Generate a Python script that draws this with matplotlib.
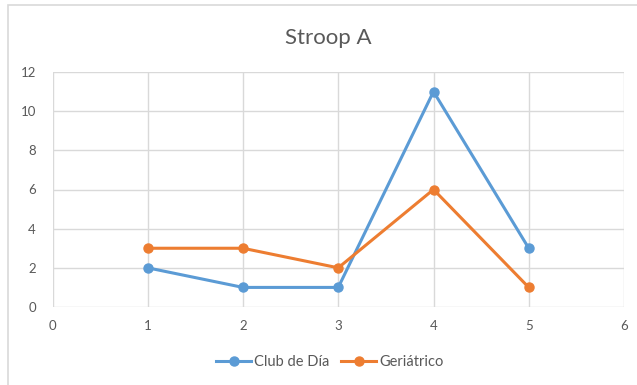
import matplotlib.pyplot as plt
from matplotlib.patches import Rectangle

plt.rcParams['font.family'] = ['Lato', 'DejaVu Sans']

x = [1, 2, 3, 4, 5]
club_dia = [2, 1, 1, 11, 3]
geriatrico = [3, 3, 2, 6, 1]

blue = '#5B9BD5'
orange = '#ED7D31'
grid_col = '#D9D9D9'
text_col = '#595959'

fig = plt.figure(figsize=(6.37, 3.85), dpi=100)

# outer chart frame (only top and left edges are in view)
fig.patches.append(Rectangle((8 / 637, -0.1), 1.2, 1 - 5 / 385 + 0.1,
                             transform=fig.transFigure, fill=False,
                             edgecolor=grid_col, linewidth=1.2))

ax = fig.add_axes([52.5 / 637, 78 / 385, 571.5 / 637, 235 / 385])

ax.plot(x, club_dia, color=blue, linewidth=2.2, marker='o', markersize=6.5,
        label='Club de Día', zorder=3)
ax.plot(x, geriatrico, color=orange, linewidth=2.2, marker='o', markersize=6.5,
        label='Geriátrico', zorder=3)

ax.set_xlim(0, 6)
ax.set_ylim(0, 12)
ax.set_xticks(range(0, 7))
ax.set_yticks(range(0, 13, 2))
ax.grid(True, color=grid_col, linewidth=1)
ax.set_axisbelow(True)
for s in ax.spines.values():
    s.set_visible(False)
ax.tick_params(length=0, colors=text_col, labelsize=9.5, pad=9)
ax.tick_params(axis='y', pad=12)

fig.text(328 / 637, 1 - 38 / 385, 'Stroop A', ha='center', va='center',
         fontsize=16, color=text_col)

fig.legend(loc='center', bbox_to_anchor=(330 / 637, 1 - 362 / 385), ncol=2,
           frameon=False, fontsize=10.5, labelcolor=text_col,
           handlelength=2.4, handletextpad=0.2, columnspacing=0.8)

fig.savefig('out.png', dpi=100)
